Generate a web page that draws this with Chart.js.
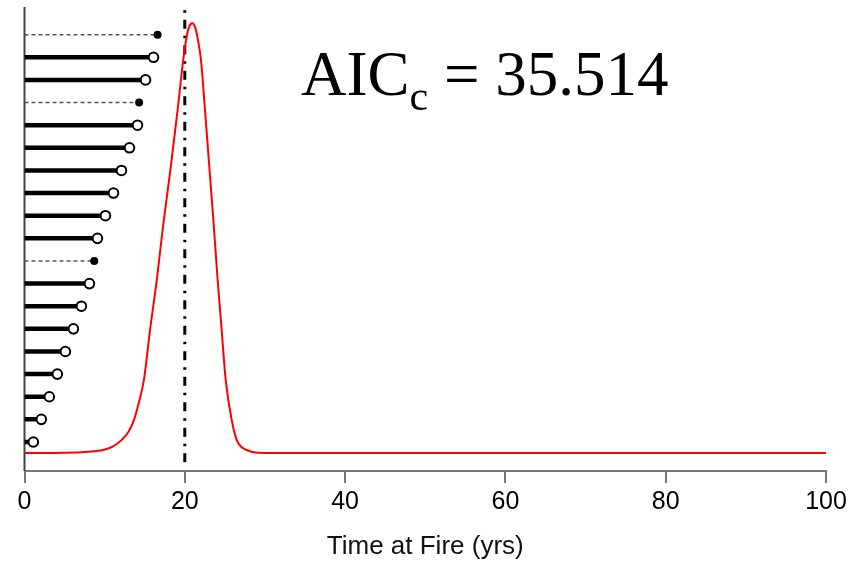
<!DOCTYPE html>
<html>
<head>
<meta charset="utf-8">
<script src="https://cdn.jsdelivr.net/npm/chart.js@4"></script>
<style>
  html, body { margin: 0; padding: 0; background: #fff; }
  canvas { display: block; }
</style>
</head>
<body>
<canvas id="chart" width="861" height="564"></canvas>
<script>
// one row per site, bottom to top: time since last fire (yrs)
const rowTimes = [1.1, 2.1, 3.1, 4.1, 5.1, 6.1, 7.1, 8.1, 8.7, 9.1, 10.1, 11.1, 12.1, 13.1, 14.1, 14.3, 15.1, 16.1, 16.6];
// 1 = fire observed (filled dot, dashed), 0 = censored (open dot, solid)
const rowObserved = [0, 0, 0, 0, 0, 0, 0, 0, 1, 0, 0, 0, 0, 0, 0, 1, 0, 0, 1];

// fitted hazard / density curve (relative to its peak)
const curveX = [0, 5, 8, 9.8, 11, 12.1, 13, 13.66, 14.3, 14.9, 15.66, 16.5, 17.3, 18.2, 19.1, 19.8, 20.15, 20.5, 20.94, 21.3, 21.65, 22.02, 22.52, 23.09, 23.61, 24.1, 24.6, 25.1, 25.85, 26.48, 27.2, 27.72, 28.8, 30, 40, 60, 80, 100];
const curveY = [0, 0.0005, 0.003, 0.007, 0.015, 0.03, 0.05, 0.077, 0.12, 0.17, 0.286, 0.402, 0.53, 0.658, 0.798, 0.914, 0.96, 0.99, 1.0, 0.99, 0.96, 0.914, 0.798, 0.658, 0.53, 0.402, 0.286, 0.17, 0.077, 0.03, 0.012, 0.007, 0.001, 0, 0, 0, 0, 0];

const cutoffYear = 20;
const xTicks = [0, 20, 40, 60, 80, 100];
const aicValue = '35.514';

const SANS = '"Liberation Sans", Arial, sans-serif';
const SERIF = '"Liberation Serif", "Times New Roman", serif';

const datasets = [];

datasets.push({
  data: curveX.map((x, i) => ({ x: x, y: curveY[i] })),
  yAxisID: 'yd',
  borderColor: '#ff0000',
  borderWidth: 2,
  pointRadius: 0,
  cubicInterpolationMode: 'monotone',
  order: 1
});

datasets.push({
  data: [{ x: cutoffYear, y: 0.1 }, { x: cutoffYear, y: 20.18 }],
  yAxisID: 'yr',
  borderColor: '#000',
  borderWidth: 3,
  borderDash: [9, 7, 2.5, 7],
  borderCapStyle: 'butt',
  pointRadius: 0,
  order: 2
});

rowTimes.forEach((t, i) => {
  const obs = rowObserved[i] === 1;
  datasets.push({
    data: [{ x: 0, y: i + 1 }, { x: t, y: i + 1 }],
    yAxisID: 'yr',
    borderColor: obs ? '#555' : '#000',
    borderWidth: obs ? 1.5 : 4.5,
    borderDash: obs ? [4, 3] : [],
    borderCapStyle: 'butt',
    pointRadius: obs ? [0, 4] : [0, 4.8],
    pointBorderWidth: obs ? 0 : 2,
    pointBorderColor: '#000',
    pointBackgroundColor: obs ? '#000' : '#fff',
    order: 0
  });
});

const decor = {
  id: 'decor',
  beforeDatasetsDraw(chart) {
    const { ctx, chartArea } = chart;
    ctx.save();
    ctx.strokeStyle = '#444';
    ctx.lineWidth = 2;
    ctx.beginPath();
    ctx.moveTo(chartArea.left, chartArea.top);
    ctx.lineTo(chartArea.left, chartArea.bottom);
    ctx.stroke();
    ctx.restore();
  },
  afterDraw(chart) {
    const { ctx } = chart;
    const x0 = chart.scales.x.getPixelForValue(34.5);
    const y0 = chart.scales.yr.getPixelForValue(16.33);
    ctx.save();
    ctx.fillStyle = '#000';
    ctx.textBaseline = 'alphabetic';
    ctx.textAlign = 'left';
    ctx.font = '63px ' + SERIF;
    ctx.fillText('AIC', x0, y0);
    let x = x0 + ctx.measureText('AIC').width;
    ctx.font = '42px ' + SERIF;
    ctx.fillText('c', x, y0 + 15);
    x += ctx.measureText('c').width;
    ctx.font = '63px ' + SERIF;
    ctx.fillText(' = ' + aicValue, x, y0);
    ctx.restore();
  }
};

new Chart(document.getElementById('chart'), {
  type: 'line',
  data: { datasets },
  options: {
    responsive: false,
    animation: false,
    layout: { padding: { top: 7, left: 24.5, right: 35, bottom: 0 } },
    plugins: { legend: { display: false }, tooltip: { enabled: false } },
    scales: {
      x: {
        type: 'linear',
        min: 0,
        max: 100,
        afterFit(s) { s.height = 93; },
        afterBuildTicks(s) { s.ticks = xTicks.map(v => ({ value: v })); },
        ticks: { font: { family: SANS, size: 25 }, color: '#000', padding: 4, maxRotation: 0 },
        grid: { drawOnChartArea: false, drawTicks: true, tickLength: 12, color: '#777', lineWidth: 2 },
        border: { display: true, color: '#777', width: 2 },
        title: {
          display: true,
          text: 'Time at Fire (yrs)',
          font: { family: SANS, size: 26 },
          color: '#111',
          padding: { top: 0, bottom: 2 }
        }
      },
      yr: { type: 'linear', display: false, min: -0.2815, max: 20.222 },
      yd: { type: 'linear', display: false, min: -0.0419, max: 1.0379 }
    }
  },
  plugins: [decor]
});
</script>
</body>
</html>
